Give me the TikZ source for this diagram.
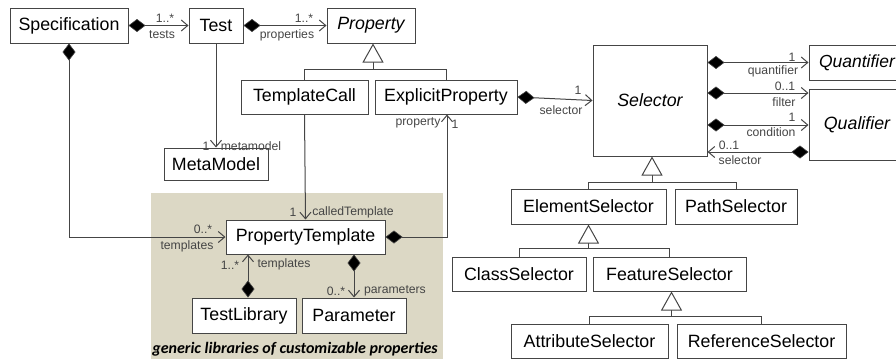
\documentclass[tikz,border=0pt]{standalone}
\usepackage{fontspec}
\setmainfont{Liberation Sans}
\newfontfamily\capfont{Carlito}
\usetikzlibrary{arrows.meta,calc}
\definecolor{ln}{HTML}{454545}
\definecolor{bgc}{HTML}{DCD8C5}
\begin{document}
\begin{tikzpicture}[x=1pt,y=-1pt,
  cls/.style={draw=ln, line width=1pt, fill=white, inner sep=0pt, text=black,
    font=\fontsize{17.8}{20}\selectfont},
  lbl/.style={font=\fontsize{12.2}{14}\selectfont, text=ln, inner sep=0pt},
  assoc/.style={draw=ln, line width=1pt,
    {Diamond[length=17pt,width=13pt,fill=black,line width=0.6pt]}-{Straight Barb[length=6.5pt,width=11pt,line width=1pt]}},
  nav/.style={draw=ln, line width=1pt, -{Straight Barb[length=6.5pt,width=11pt,line width=1pt]}},
  gline/.style={draw=ln, line width=1pt},
  gen/.style={draw=ln, line width=1pt, -{Triangle[open,length=19pt,width=21pt,fill=white,line width=1pt]}}
]
\useasboundingbox (0,0) rectangle (896,359);
\clip (0,0) rectangle (896,359);
\fill[bgc] (151,193) rectangle (443,359);
\node[font=\capfont\bfseries\itshape\fontsize{16}{18}\selectfont, text=black, inner sep=0pt] (cap) at (295,349) {generic libraries of customizable properties};

% classes
\node[cls, minimum width=118, minimum height=35] (spec) at (69,25.5) {Specification};
\node[cls, minimum width=54, minimum height=35] (test) at (216,25.5) {Test};
\node[cls, minimum width=88, minimum height=35, font=\fontsize{17.8}{20}\selectfont\itshape] (prop) at (371,25.5) {Property};
\node[cls, minimum width=127, minimum height=34] (tcall) at (304.5,97) {TemplateCall};
\node[cls, minimum width=142, minimum height=34] (eprop) at (446,97) {ExplicitProperty};
\node[cls, minimum width=104, minimum height=32] (meta) at (216,164) {MetaModel};
\node[cls, minimum width=114, minimum height=111, font=\fontsize{17.8}{20}\selectfont\itshape] (sel) at (650,100.5) {Selector};
\node[cls, minimum width=96, minimum height=35, font=\fontsize{17.5}{20}\selectfont\itshape] (quant) at (857,62.5) {Quantifier};
\node[cls, minimum width=96, minimum height=71, font=\fontsize{17.8}{20}\selectfont\itshape] (qual) at (857,124.5) {Qualifier};
\node[cls, minimum width=159, minimum height=34] (ptemp) at (305.5,237) {PropertyTemplate};
\node[cls, minimum width=104, minimum height=35] (tlib) at (244,315.5) {TestLibrary};
\node[cls, minimum width=104, minimum height=35] (param) at (354,315.5) {Parameter};
\node[cls, minimum width=155, minimum height=35] (esel) at (588.5,206.5) {ElementSelector};
\node[cls, minimum width=122, minimum height=35] (psel) at (736,206.5) {PathSelector};
\node[cls, minimum width=134, minimum height=34] (csel) at (519,274) {ClassSelector};
\node[cls, minimum width=153, minimum height=34] (fsel) at (669.5,274) {FeatureSelector};
\node[cls, minimum width=157, minimum height=34] (asel) at (589.5,341) {AttributeSelector};
\node[cls, minimum width=169, minimum height=34] (rsel) at (761.5,341) {ReferenceSelector};

% associations
\draw[assoc] (spec.east) -- (test.west);
\draw[assoc] (test.east) -- (prop.west);
\draw[nav] (test.south) -- (meta.north);
\draw[assoc] (eprop.east) -- (sel.west);
\draw[assoc] (sel.east |- quant.west) -- (quant.west);
\coordinate (yf) at (0,93);
\coordinate (yc) at (0,125);
\coordinate (ys) at (0,152);
\draw[assoc] (sel.east |- yf) -- (qual.west |- yf);
\draw[assoc] (sel.east |- yc) -- (qual.west |- yc);
\draw[assoc] (qual.west |- ys) -- (sel.east |- ys);
\draw[assoc] (spec.south) |- (ptemp.west);
\draw[nav] (tcall.south) -- (ptemp.north);
\draw[assoc] (ptemp.east) -| ([xshift=1]eprop.south);
\draw[assoc] ([xshift=4]tlib.north) -- ([xshift=4]tlib.north |- ptemp.south);
\draw[assoc] (ptemp.south -| param.north) -- (param.north);

% generalizations
\draw[gline] (tcall.north) -- ++(0,-10) -| (eprop.north);
\draw[gen] ($(prop.south |- tcall.north)+(2,-10)$) -- ([xshift=2]prop.south);
\draw[gline] (esel.north) -- ++(0,-6) -| (psel.north);
\draw[gen] ($(sel.south |- esel.north)+(2,-6)$) -- ([xshift=2]sel.south);
\draw[gline] (csel.north) -- ++(0,-8) -| (fsel.north);
\draw[gen] ($(esel.south |- csel.north)+(0,-8)$) -- (esel.south);
\draw[gline] (asel.north) -- ++(0,-7) -| (rsel.north);
\draw[gen] ($(fsel.south |- asel.north)+(2,-7)$) -- ([xshift=2]fsel.south);

% labels
\node[lbl] (l1) at (165,18) {1..*};
\node[lbl] (l2) at (162,35) {tests};
\node[lbl] (l3) at (304,18) {1..*};
\node[lbl] (l4) at (287,35) {properties};
\node[lbl] (l5) at (206,146) {1};
\node[lbl] (l6) at (251,146) {metamodel};
\node[lbl] (l7) at (418,123) {property};
\node[lbl] (l8) at (455,124) {1};
\node[lbl] (l9) at (578,90) {1};
\node[lbl] (l10) at (561,110) {selector};
\node[lbl] (l11) at (792,57) {1};
\node[lbl] (l12) at (773,71) {quantifier};
\node[lbl] (l13) at (785,86) {0..1};
\node[lbl] (l14) at (784,102) {filter};
\node[lbl] (l15) at (792,117) {1};
\node[lbl] (l16) at (771,132) {condition};
\node[lbl] (l17) at (729,145) {0..1};
\node[lbl] (l18) at (740,160) {selector};
\node[lbl] (l19) at (293,212) {1};
\node[lbl] (l20) at (353,212) {calledTemplate};
\node[lbl] (l21) at (203,229) {0..*};
\node[lbl] (l22) at (187,246) {templates};
\node[lbl] (l23) at (230,265) {1..*};
\node[lbl] (l24) at (284,264) {templates};
\node[lbl] (l25) at (336,291) {0..*};
\node[lbl] (l26) at (395,291) {parameters};
\end{tikzpicture}
\end{document}
